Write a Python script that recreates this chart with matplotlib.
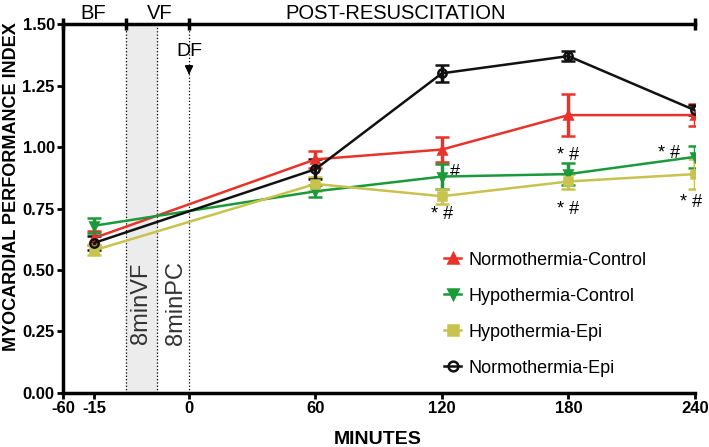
import matplotlib
matplotlib.use('Agg')
import matplotlib.pyplot as plt
from matplotlib.lines import Line2D
import numpy as np

plt.rcParams['font.family'] = ['Liberation Sans', 'DejaVu Sans']

# sampling times (minutes)
minutes = [-15, 60, 120, 180, 240]

norm_ctrl = [0.63, 0.95, 0.99, 1.13, 1.13]
norm_ctrl_err = [0.03, 0.035, 0.05, 0.085, 0.045]
hypo_ctrl = [0.68, 0.82, 0.88, 0.89, 0.96]
hypo_ctrl_err = [0.03, 0.025, 0.05, 0.045, 0.045]
hypo_epi = [0.58, 0.85, 0.80, 0.86, 0.89]
hypo_epi_err = [0.02, 0.03, 0.03, 0.03, 0.06]
norm_epi = [0.61, 0.91, 1.30, 1.37, 1.15]
norm_epi_err = [0.03, 0.04, 0.035, 0.02, 0.02]

xticks = [-60, -15, 0, 60, 120, 180, 240]
yticks = [0, 0.25, 0.5, 0.75, 1.0, 1.25, 1.5]

# broken time axis: pre-arrest part is stretched
brk_min = [-60, -15, 0, 240]
brk_pos = [0, 31, 126, 632]


def fwd(x):
    return np.interp(x, brk_min, brk_pos)


def inv(p):
    return np.interp(p, brk_pos, brk_min)


fig = plt.figure(figsize=(7.09, 4.47), dpi=100)
ax = fig.add_axes([0.089, 0.121, 0.891, 0.825])
ax.set_xscale('function', functions=(fwd, inv))
ax.set_xlim(-60, 240)
ax.set_ylim(0, 1.5)

# VF / PC phases
ax.axvspan(-10, -5, color='#ececec', zorder=0)
for xv in [-10, -5, 0]:
    ax.axvline(xv, color='k', ls=':', lw=0.9, zorder=1)
ax.text(-7.6, 0.365, '8minVF', rotation=90, ha='center', va='center',
        fontsize=17, color='#333333')
ax.text(-2.1, 0.365, '8minPC', rotation=90, ha='center', va='center',
        fontsize=17, color='#333333')
ax.annotate('DF', xy=(0, 1.295), xytext=(0, 1.39), ha='center',
            va='center', fontsize=14,
            arrowprops=dict(arrowstyle='-|>', color='k', lw=1.5,
                            mutation_scale=11, shrinkA=6, shrinkB=0))

series = [
    (norm_ctrl, norm_ctrl_err, '#e8322a', '^', 'Normothermia-Control'),
    (hypo_ctrl, hypo_ctrl_err, '#1a9a3a', 'v', 'Hypothermia-Control'),
    (hypo_epi, hypo_epi_err, '#c8c24e', 's', 'Hypothermia-Epi'),
    (norm_epi, norm_epi_err, '#111111', 'o', 'Normothermia-Epi'),
]
handles = []
for vals, err, col, mk, lab in series:
    mfc = 'none' if mk == 'o' else col
    ax.errorbar(minutes, vals, yerr=err, color=col, marker=mk, ms=6,
                mfc=mfc, mew=1.8, lw=1.8, elinewidth=2.5, capsize=5,
                capthick=2.5, zorder=3)
    handles.append(Line2D([], [], color=col, marker=mk, ms=7, mfc=mfc,
                          mew=1.8, lw=1.8, label=lab))

# significance marks
marks = [(124, 0.895, '#'), (120, 0.725, '* #'), (180, 0.965, '* #'),
         (180, 0.745, '* #'), (228, 0.975, '* #'), (238, 0.775, '* #')]
for x, y, s in marks:
    ax.text(x, y, s, fontsize=13, ha='left' if s == '#' else 'center',
            va='center')

# phase bar on top
ax.plot([-60, 240], [1.5, 1.5], color='k', lw=2.5, clip_on=False)
ax.plot([-60, -10, 0, 240], [1.5] * 4, ls='none', marker='|', ms=8,
        mew=2.5, color='k', clip_on=False)
ax.text(-17, 1.545, 'BF', ha='center', va='center', fontsize=14.5)
ax.text(-4.6, 1.545, 'VF', ha='center', va='center', fontsize=14.5)
ax.text(98, 1.545, 'POST-RESUSCITATION', ha='center', va='center',
        fontsize=14.5)

ax.set_xticks(xticks)
ax.set_xticklabels([str(t) for t in xticks], fontweight='bold')
ax.set_yticks(yticks)
ax.set_yticklabels(['%.2f' % t for t in yticks], fontweight='bold')
ax.xaxis.set_minor_locator(matplotlib.ticker.NullLocator())
ax.tick_params(width=2, length=4, labelsize=12, pad=2)
for side in ['top', 'right']:
    ax.spines[side].set_visible(False)
for side in ['left', 'bottom']:
    ax.spines[side].set_linewidth(2.5)

fig.text(0.533, 1 - 440 / 447., 'MINUTES', fontweight='bold', fontsize=14,
         ha='center', va='center')
fig.text(12 / 709., 1 - 187 / 447., 'MYOCARDIAL PERFORMANCE INDEX',
         fontweight='bold', fontsize=13, rotation=90, ha='center',
         va='center')

ax.legend(handles=handles, loc='lower left', bbox_to_anchor=(0.578, 0.0),
          frameon=False, fontsize=13, handlelength=0.9, handletextpad=0.45,
          labelspacing=1.05)

fig.savefig('out.png', dpi=100)
